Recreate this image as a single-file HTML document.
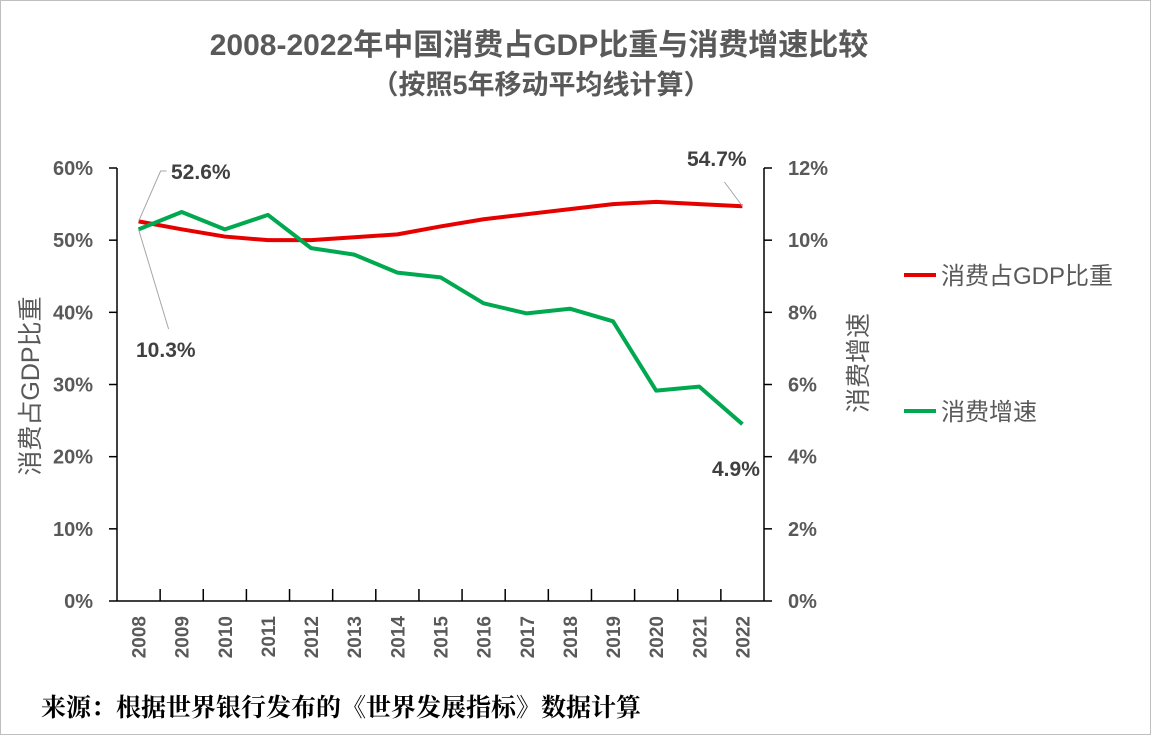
<!DOCTYPE html>
<html><head><meta charset="utf-8"><style>
body{margin:0;background:#fff;}
#wrap{position:relative;width:1151px;height:735px;box-sizing:border-box;border:1px solid #bfbfbf;background:#fff;}
svg{position:absolute;left:0;top:0;}
text{font-family:"Liberation Sans","Noto Sans CJK SC",sans-serif;}
</style></head><body>
<div id="wrap">
<svg id="chart" width="1151" height="735"></svg>
</div>
<script>
const categories=["2008","2009","2010","2011","2012","2013","2014","2015","2016","2017","2018","2019","2020","2021","2022"];
const shareGDP=[52.6,51.5,50.5,50.0,50.0,50.4,50.8,51.9,52.9,53.6,54.3,55.0,55.3,55.0,54.7];
const growth=[10.3,10.78,10.3,10.7,9.78,9.6,9.1,8.97,8.25,7.97,8.1,7.75,5.83,5.94,4.9];
const leftTicks=["0%","10%","20%","30%","40%","50%","60%"];
const rightTicks=["0%","2%","4%","6%","8%","10%","12%"];
const NS="http://www.w3.org/2000/svg";
const svg=document.getElementById('chart');
const X0=116,X1=763,Y0=600,Y1=167;
const bw=(X1-X0)/categories.length;
const xs=i=>X0+bw*(i+0.5);
const yL=v=>Y0-(v/60)*(Y0-Y1);
const yR=v=>Y0-(v/12)*(Y0-Y1);
function mk(t,a,txt){const e=document.createElementNS(NS,t);for(const k in a)e.setAttribute(k,a[k]);if(txt!==undefined)e.textContent=txt;svg.appendChild(e);return e;}
let e;
e=mk('text',{x:538,y:54,'text-anchor':'middle','font-size':30,'font-weight':'bold',fill:'#595959'},'2008-2022年中国消费占GDP比重与消费增速比较');

e=mk('text',{x:540,y:93,'text-anchor':'middle','font-size':27,'font-weight':'bold',fill:'#595959'},'（按照5年移动平均线计算）');

e=mk('line',{x1:X0,y1:Y1,x2:X0,y2:Y0,stroke:'#000','stroke-width':1.5});

e=mk('line',{x1:X1,y1:Y1,x2:X1,y2:Y0,stroke:'#000','stroke-width':1.5});

e=mk('line',{x1:X0,y1:Y0,x2:X1,y2:Y0,stroke:'#000','stroke-width':1.5});

leftTicks.forEach((t,i)=>{const y=yL(i*10);
 e=mk('line',{x1:X0-8,y1:y,x2:X0,y2:y,stroke:'#000','stroke-width':1.5});
 
 e=mk('text',{x:92,y:y+7,'text-anchor':'end','font-size':20,'font-weight':'bold',fill:'#595959'},t);
 });
rightTicks.forEach((t,i)=>{const y=yR(i*2);
 e=mk('line',{x1:X1,y1:y,x2:X1+8,y2:y,stroke:'#000','stroke-width':1.5});
 
 e=mk('text',{x:787,y:y+7,'text-anchor':'start','font-size':20,'font-weight':'bold',fill:'#595959'},t);
 });
categories.forEach((c,i)=>{
 if(i>0){e=mk('line',{x1:X0+bw*i,y1:Y0-12,x2:X0+bw*i,y2:Y0,stroke:'#000','stroke-width':1.5});
 }
 const x=xs(i)+7;
 e=mk('text',{x:x,y:615,'text-anchor':'end','font-size':19,'font-weight':'bold',fill:'#595959',transform:`rotate(-90 ${x} 615)`},c);
 });
e=mk('text',{x:38,y:385,'text-anchor':'middle','font-size':25,fill:'#595959',transform:'rotate(-90 38 385)'},'消费占GDP比重');

e=mk('text',{x:866,y:362,'text-anchor':'middle','font-size':25,fill:'#595959',transform:'rotate(-90 866 362)'},'消费增速');

e=mk('polyline',{points:shareGDP.map((v,i)=>xs(i)+','+yL(v)).join(' '),fill:'none',stroke:'#e60000','stroke-width':4,'stroke-linejoin':'round'});

e=mk('polyline',{points:growth.map((v,i)=>xs(i)+','+yR(v)).join(' '),fill:'none',stroke:'#00a84f','stroke-width':4,'stroke-linejoin':'round'});

const n=categories.length-1;
e=mk('polyline',{points:`${xs(0)},${yL(shareGDP[0])} ${xs(0)+22},170 ${xs(0)+28},170`,fill:'none',stroke:'#a6a6a6','stroke-width':1});

e=mk('text',{x:170,y:178,'font-size':21,'font-weight':'bold',fill:'#404040'},shareGDP[0].toFixed(1)+'%');

e=mk('line',{x1:xs(0),y1:yR(growth[0]),x2:xs(0)+30,y2:328,stroke:'#a6a6a6','stroke-width':1});

e=mk('text',{x:135,y:356,'font-size':21,'font-weight':'bold',fill:'#404040'},growth[0].toFixed(1)+'%');

e=mk('line',{x1:xs(n),y1:yL(shareGDP[n]),x2:xs(n)-18,y2:181,stroke:'#a6a6a6','stroke-width':1});

e=mk('text',{x:686,y:165,'font-size':21,'font-weight':'bold',fill:'#404040'},shareGDP[n].toFixed(1)+'%');

e=mk('text',{x:711,y:475,'font-size':21,'font-weight':'bold',fill:'#404040'},growth[n].toFixed(1)+'%');

e=mk('line',{x1:903,y1:274,x2:935,y2:274,stroke:'#e60000','stroke-width':4});

e=mk('text',{x:940,y:283,'font-size':24,fill:'#595959'},'消费占GDP比重');

e=mk('line',{x1:903,y1:410,x2:935,y2:410,stroke:'#00a84f','stroke-width':4});

e=mk('text',{x:940,y:419,'font-size':24,fill:'#595959'},'消费增速');

e=mk('text',{x:40,y:715,'font-size':25,'font-weight':'bold',fill:'#000',style:'font-family:"Noto Serif CJK SC",serif'},'来源：根据世界银行发布的《世界发展指标》数据计算');

</script>
</body></html>
